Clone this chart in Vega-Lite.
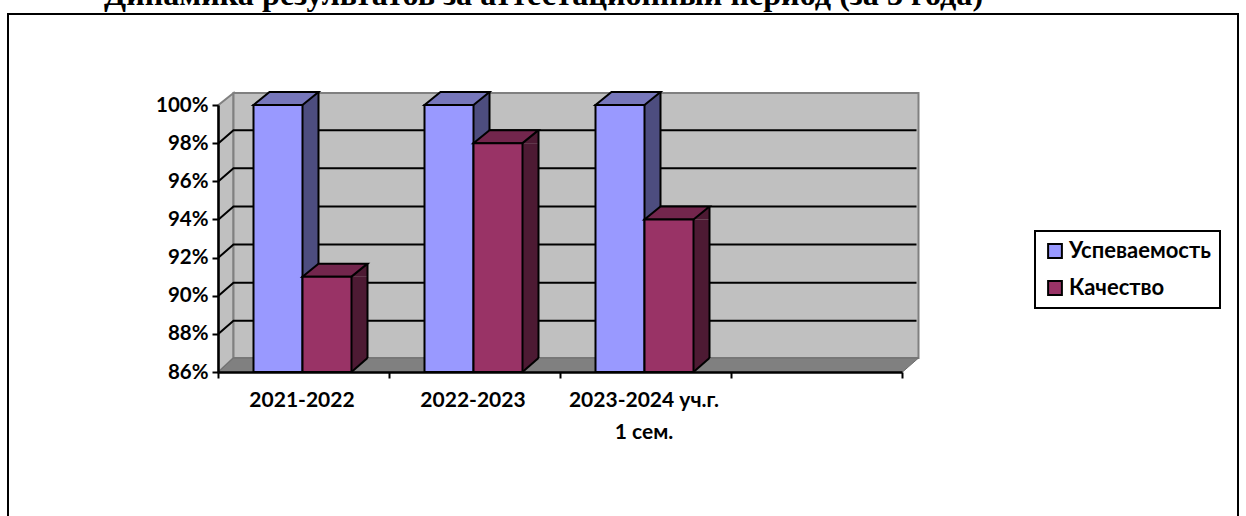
{
"$schema":"https://vega.github.io/schema/vega-lite/v6.json",
"width":1230,"height":504,
"autosize":{"type":"none"},
"padding":{"left":8,"top":14,"right":8,"bottom":0},
"background":"white",
"title":{"text":"Динамика результатов за аттестационный период (за 3 года)","font":"Liberation Serif","fontWeight":"bold","fontSize":32.2,"color":"black","anchor":"start","frame":"group","dx":96,"offset":-23,"baseline":"alphabetic"},
"config":{"view":{"stroke":"black","strokeWidth":2},"legend":{"strokeWidth":2}},
"datasets":{
"bars":[
{"cat":"2021-2022","series":"Успеваемость","value":100},
{"cat":"2021-2022","series":"Качество","value":91},
{"cat":"2022-2023","series":"Успеваемость","value":100},
{"cat":"2022-2023","series":"Качество","value":98},
{"cat":"2023-2024 уч.г.|1 сем.","series":"Успеваемость","value":100},
{"cat":"2023-2024 уч.г.|1 сем.","series":"Качество","value":94}
],
"grid":[{"cat":"2021-2022","tick":88},{"cat":"2021-2022","tick":90},{"cat":"2021-2022","tick":92},{"cat":"2021-2022","tick":94},{"cat":"2021-2022","tick":96},{"cat":"2021-2022","tick":98}],
"base":[{"cat":"2021-2022","tick":86}]
},
"encoding":{
"x":{"field":"cat","type":"nominal","sort":null,"title":null,
"scale":{"type":"band","domain":["2021-2022","2022-2023","2023-2024 уч.г.|1 сем."," "],"range":[210,894],"paddingInner":0,"paddingOuter":0},
"axis":{"orient":"bottom","offset":-146,"labelAngle":0,"labelExpr":"split(datum.label,'|')","labelFont":"Lato","labelFontWeight":"bold","labelFontSize":21,"labelColor":"black","labelPadding":11,"labelOffset":-2,"labelLineHeight":32,"labelBaseline":"top","tickBand":"extent","tickColor":"black","tickWidth":2,"tickSize":6,"domainColor":"black","domainWidth":2.5,"grid":false,"zindex":1}},
"y":{"type":"quantitative","title":null,
"scale":{"domain":[86,100],"range":[358,91],"nice":false,"zero":false},
"axis":{"orient":"left","offset":-210,"values":[86,88,90,92,94,96,98,100],"labelExpr":"datum.value+'%'","labelFont":"Lato","labelFontWeight":"bold","labelFontSize":20.5,"labelColor":"black","labelPadding":4,"tickColor":"black","tickWidth":2,"tickSize":6,"domainColor":"black","domainWidth":2.5,"grid":false,"zindex":1}}
},
"layer":[
{"data":{"name":"base"},"mark":{"type":"point","filled":true,"size":4,"opacity":1,"fill":"#c0c0c0","stroke":"#808080","strokeWidth":2,"shape":"M-85,0L-70,-14L-70,-279L-85,-267Z"},"encoding":{"y":{"field":"tick","type":"quantitative"}}},
{"data":{"name":"base"},"mark":{"type":"point","filled":true,"size":4,"opacity":1,"fill":"#c0c0c0","stroke":"#808080","strokeWidth":2,"shape":"M-70,-14L-70,-279L615,-279L615,-14Z"},"encoding":{"y":{"field":"tick","type":"quantitative"}}},
{"data":{"name":"base"},"mark":{"type":"point","filled":true,"size":4,"opacity":1,"fill":"#808080","stroke":"#6e6e6e","strokeWidth":1,"shape":"M-85,0L-70,-14L615,-14L599,0Z"},"encoding":{"y":{"field":"tick","type":"quantitative"}}},
{"data":{"name":"grid"},"mark":{"type":"point","filled":false,"size":4,"opacity":1,"stroke":"black","strokeWidth":2,"shape":"M-85,0L-70,-13L613,-13"},"encoding":{"y":{"field":"tick","type":"quantitative"}}},

{"data":{"name":"bars"},"transform":[{"filter":"datum.series=='Успеваемость'"}],"mark":{"type":"bar","width":16,"xOffset":7,"y2Offset":-14,"fill":"#4d4d7f"},"encoding":{"y":{"field":"value","type":"quantitative"},"y2":{"datum":86}}},
{"data":{"name":"bars"},"transform":[{"filter":"datum.series=='Успеваемость'"}],"mark":{"type":"point","filled":true,"size":4,"opacity":1,"fill":"#4d4d7f","strokeWidth":0,"shape":"M-1,0L15,-13L15,0Z"},"encoding":{"y":{"field":"value","type":"quantitative"}}},
{"data":{"name":"bars"},"transform":[{"filter":"datum.series=='Успеваемость'"}],"mark":{"type":"point","filled":true,"size":4,"opacity":1,"fill":"#4d4d7f","strokeWidth":0,"shape":"M-1,0L15,-14L-1,-14Z"},"encoding":{"y":{"datum":86}}},
{"data":{"name":"bars"},"transform":[{"filter":"datum.series=='Успеваемость'"}],"mark":{"type":"point","filled":false,"size":4,"opacity":1,"stroke":"black","strokeWidth":2,"shape":"M-1,0L15,-14"},"encoding":{"y":{"datum":86}}},
{"data":{"name":"bars"},"transform":[{"filter":"datum.series=='Успеваемость'"}],"mark":{"type":"rule","xOffset":15,"yOffset":-13,"y2Offset":-14,"stroke":"black","strokeWidth":2},"encoding":{"y":{"field":"value","type":"quantitative"},"y2":{"datum":86}}},
{"data":{"name":"bars"},"transform":[{"filter":"datum.series=='Успеваемость'"}],"mark":{"type":"point","filled":true,"size":4,"opacity":1,"fill":"#7777bb","stroke":"black","strokeWidth":2,"shape":"M-50,0L-1,0L15,-13L-34,-13Z"},"encoding":{"y":{"field":"value","type":"quantitative"}}},
{"data":{"name":"bars"},"transform":[{"filter":"datum.series=='Успеваемость'"}],"mark":{"type":"bar","width":49,"xOffset":-25.5,"stroke":"black","strokeWidth":2},"encoding":{"y":{"field":"value","type":"quantitative"},"y2":{"datum":86},"color":{"field":"series","type":"nominal","title":null,"sort":null,"scale":{"domain":["Успеваемость","Качество"],"range":["#9999ff","#993366"]},"legend":{"orient":"none","legendX":1027,"legendY":217,"strokeColor":"black","padding":9,"rowPadding":15,"labelFont":"Lato","labelFontWeight":"bold","labelFontSize":22,"labelColor":"black","labelOffset":3,"symbolType":"square","symbolSize":190,"symbolStrokeColor":"black","symbolStrokeWidth":2,"symbolOpacity":1}}}},

{"data":{"name":"bars"},"transform":[{"filter":"datum.series=='Качество'"}],"mark":{"type":"bar","width":16,"xOffset":56,"y2Offset":-14,"fill":"#4d1a33"},"encoding":{"y":{"field":"value","type":"quantitative"},"y2":{"datum":86}}},
{"data":{"name":"bars"},"transform":[{"filter":"datum.series=='Качество'"}],"mark":{"type":"point","filled":true,"size":4,"opacity":1,"fill":"#4d1a33","strokeWidth":0,"shape":"M48,0L64,-13L64,0Z"},"encoding":{"y":{"field":"value","type":"quantitative"}}},
{"data":{"name":"bars"},"transform":[{"filter":"datum.series=='Качество'"}],"mark":{"type":"point","filled":true,"size":4,"opacity":1,"fill":"#4d1a33","strokeWidth":0,"shape":"M48,0L64,-14L48,-14Z"},"encoding":{"y":{"datum":86}}},
{"data":{"name":"bars"},"transform":[{"filter":"datum.series=='Качество'"}],"mark":{"type":"point","filled":false,"size":4,"opacity":1,"stroke":"black","strokeWidth":2,"shape":"M48,0L64,-14"},"encoding":{"y":{"datum":86}}},
{"data":{"name":"bars"},"transform":[{"filter":"datum.series=='Качество'"}],"mark":{"type":"rule","xOffset":64,"yOffset":-13,"y2Offset":-14,"stroke":"black","strokeWidth":2},"encoding":{"y":{"field":"value","type":"quantitative"},"y2":{"datum":86}}},
{"data":{"name":"bars"},"transform":[{"filter":"datum.series=='Качество'"}],"mark":{"type":"point","filled":true,"size":4,"opacity":1,"fill":"#73264d","stroke":"black","strokeWidth":2,"shape":"M-1,0L48,0L64,-13L15,-13Z"},"encoding":{"y":{"field":"value","type":"quantitative"}}},
{"data":{"name":"bars"},"transform":[{"filter":"datum.series=='Качество'"}],"mark":{"type":"bar","width":49,"xOffset":23.5,"stroke":"black","strokeWidth":2},"encoding":{"y":{"field":"value","type":"quantitative"},"y2":{"datum":86},"color":{"field":"series","type":"nominal","title":null,"sort":null}}}
]
}
